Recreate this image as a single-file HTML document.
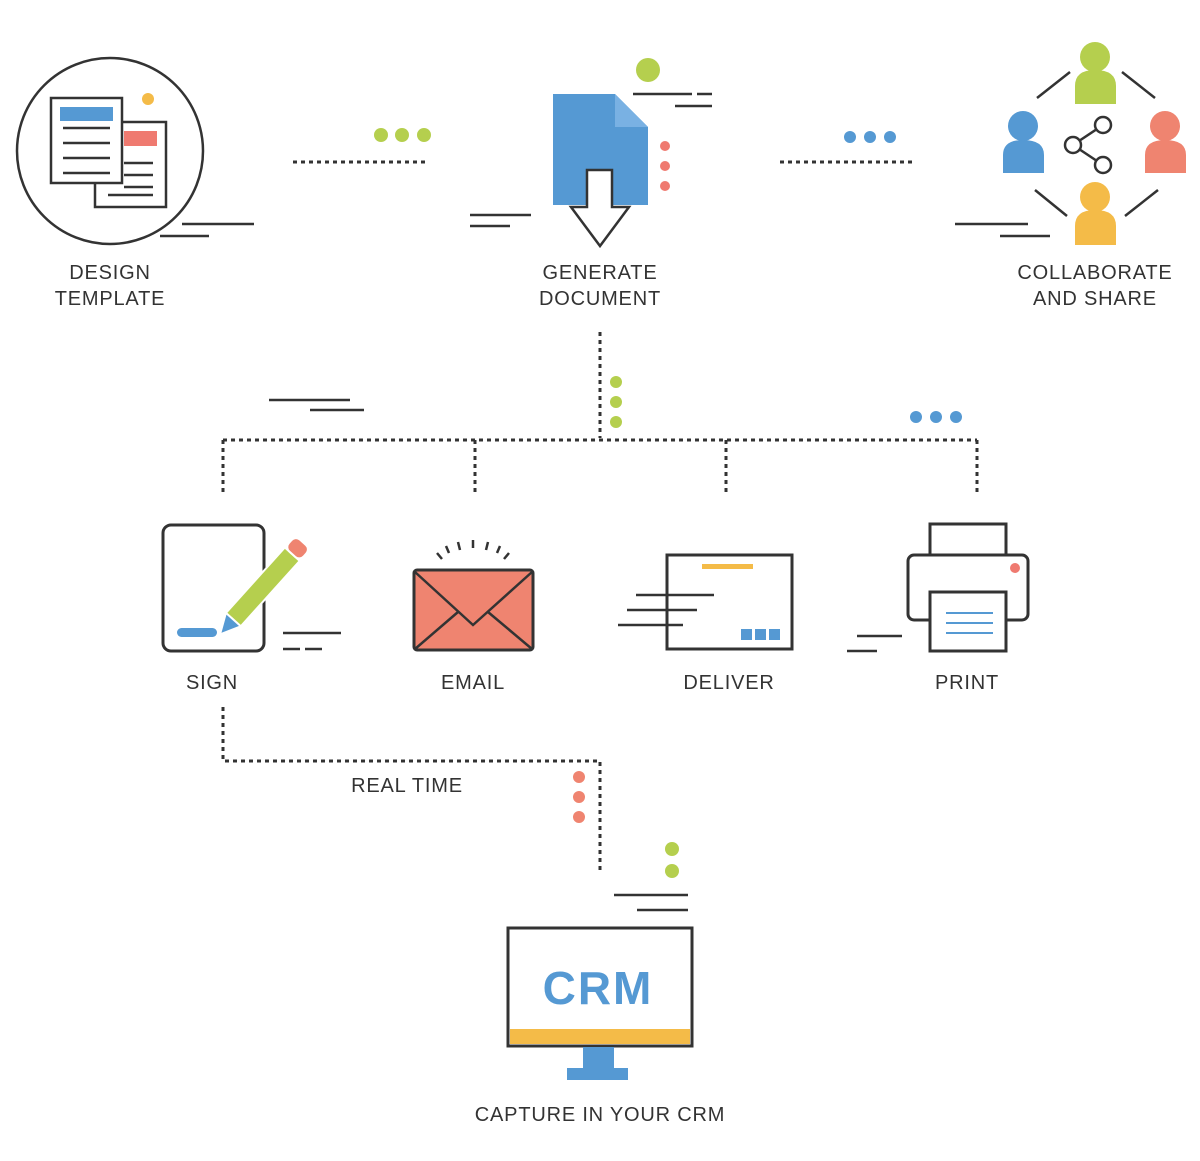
<!DOCTYPE html>
<html><head><meta charset="utf-8"><style>
html,body{margin:0;padding:0;background:#fff;}
svg{display:block}
text{font-family:"Liberation Sans",sans-serif;font-size:20px;fill:#333;letter-spacing:0.8px;text-anchor:middle}
</style></head><body>
<svg width="1200" height="1161" viewBox="0 0 1200 1161" xmlns="http://www.w3.org/2000/svg">
<g stroke="#333" stroke-width="2.5" fill="none">
<circle cx="110" cy="151" r="93"/>
<rect x="95" y="122" width="71" height="85" fill="#fff"/>
<rect x="51" y="98" width="71" height="85" fill="#fff"/>
<path d="M63 128H110M63 143H110M63 158H110M63 173H110M124 163H153M124 175H153M124 187H153M108 195H153"/>
<path d="M182 224H254M160 236H209"/>
</g>
<rect x="60" y="107" width="53" height="14" fill="#5599d3"/>
<rect x="124" y="131" width="33" height="15" fill="#ef7a70"/>
<circle cx="148" cy="99" r="6" fill="#f4bb48"/>
<path d="M293 162H425" stroke="#333" stroke-width="3" stroke-dasharray="4 4"/>
<g fill="#b5cf4e"><circle cx="381" cy="135" r="7"/><circle cx="402" cy="135" r="7"/><circle cx="424" cy="135" r="7"/></g>

<path d="M553 94H615L648 127V205H553Z" fill="#5599d3"/>
<path d="M615 94L648 127H615Z" fill="#79b1e3"/>
<path d="M587 170H612V207H629L600 246L571 207H587Z" fill="#fff" stroke="#333" stroke-width="2.5"/>
<circle cx="648" cy="70" r="12" fill="#b5cf4e"/>
<g stroke="#333" stroke-width="2.5"><path d="M633 94H692M697 94H712M675 106H712M470 215H531M470 226H510"/></g>
<g fill="#ef7a70"><circle cx="665" cy="146" r="5"/><circle cx="665" cy="166" r="5"/><circle cx="665" cy="186" r="5"/></g>
<path d="M780 162H912" stroke="#333" stroke-width="3" stroke-dasharray="4 4"/>
<g fill="#5599d3"><circle cx="850" cy="137" r="6"/><circle cx="870" cy="137" r="6"/><circle cx="890" cy="137" r="6"/></g>

<g fill="#b5cf4e"><circle cx="1095" cy="57" r="15"/><path d="M1075 104V86Q1075 70 1095 70Q1116 70 1116 86V104Z"/></g>
<g fill="#5599d3"><circle cx="1023" cy="126" r="15"/><path d="M1003 173V155Q1003 140 1023 140Q1044 140 1044 155V173Z"/></g>
<g fill="#ef8470"><circle cx="1165" cy="126" r="15"/><path d="M1145 173V155Q1145 140 1165 140Q1186 140 1186 155V173Z"/></g>
<g fill="#f4bb48"><circle cx="1095" cy="197" r="15"/><path d="M1075 245V226Q1075 210 1095 210Q1116 210 1116 226V245Z"/></g>
<g stroke="#333" stroke-width="2.5" fill="#fff">
<path d="M1103 125L1073 145L1103 165" fill="none"/>
<circle cx="1103" cy="125" r="8"/><circle cx="1073" cy="145" r="8"/><circle cx="1103" cy="165" r="8"/>
<path d="M1037 98L1070 72M1122 72L1155 98M1035 190L1067 216M1125 216L1158 190M955 224H1028M1000 236H1050" fill="none"/>
</g>

<text x="110" y="279">DESIGN</text><text x="110" y="305">TEMPLATE</text>
<text x="600" y="279">GENERATE</text><text x="600" y="305">DOCUMENT</text>
<text x="1095" y="279">COLLABORATE</text><text x="1095" y="305">AND SHARE</text>

<g stroke="#333" stroke-width="3" stroke-dasharray="4 4" fill="none">
<path d="M600 332V438"/><path d="M223 440H977"/>
<path d="M223 440V495M475 440V495M726 440V495M977 440V495"/>
<path d="M223 707V761H600V870"/>
</g>
<g fill="#b5cf4e"><circle cx="616" cy="382" r="6"/><circle cx="616" cy="402" r="6"/><circle cx="616" cy="422" r="6"/></g>
<g stroke="#333" stroke-width="2.5"><path d="M269 400H350M310 410H364"/></g>
<g fill="#5599d3"><circle cx="916" cy="417" r="6"/><circle cx="936" cy="417" r="6"/><circle cx="956" cy="417" r="6"/></g>

<rect x="163" y="525" width="101" height="126" rx="8" fill="#fff" stroke="#333" stroke-width="3"/>
<g transform="translate(224,630) rotate(-48)">
<rect x="14" y="-10" width="88" height="20" fill="#b5cf4e" stroke="#fff" stroke-width="2"/>
<path d="M14 -10L-6 0L14 10Z" fill="#5599d3" stroke="#fff" stroke-width="2"/>
<rect x="102" y="-10" width="16" height="20" rx="6" fill="#ef8470" stroke="#fff" stroke-width="2"/>
</g>
<rect x="177" y="628" width="40" height="9" rx="4.5" fill="#5599d3"/>
<g stroke="#333" stroke-width="2.5"><path d="M283 633H341M283 649H300M305 649H322"/></g>

<rect x="414" y="570" width="119" height="80" rx="3" fill="#ef8470" stroke="#333" stroke-width="3"/>
<g stroke="#333" stroke-width="2.5" fill="none">
<path d="M415 572L473 625L532 572M415 649L458 612M532 649L488 612"/>
<path d="M437 553L442 559M446 546L449 553M458 542L460 550M473 540V548M488 542L486 550M500 546L497 553M509 553L504 559"/>
</g>

<rect x="667" y="555" width="125" height="94" fill="#fff" stroke="#333" stroke-width="3"/>
<rect x="702" y="564" width="51" height="5" fill="#f4bb48"/>
<g fill="#5599d3"><rect x="741" y="629" width="11" height="11"/><rect x="755" y="629" width="11" height="11"/><rect x="769" y="629" width="11" height="11"/></g>
<g stroke="#333" stroke-width="2.5"><path d="M636 595H714M627 610H697M618 625H683"/></g>

<g stroke="#333" stroke-width="3" fill="#fff">
<rect x="930" y="524" width="76" height="31"/>
<rect x="908" y="555" width="120" height="65" rx="6"/>
<rect x="930" y="592" width="76" height="59"/>
</g>
<g stroke="#5599d3" stroke-width="2"><path d="M946 613H993M946 623H993M946 633H993"/></g>
<circle cx="1015" cy="568" r="5" fill="#ef7a70"/>
<g stroke="#333" stroke-width="2.5"><path d="M857 636H902M847 651H877"/></g>

<text x="212" y="689">SIGN</text><text x="473" y="689">EMAIL</text><text x="729" y="689">DELIVER</text><text x="967" y="689">PRINT</text>
<text x="407" y="792">REAL TIME</text>

<g fill="#ef8470"><circle cx="579" cy="777" r="6"/><circle cx="579" cy="797" r="6"/><circle cx="579" cy="817" r="6"/></g>
<g fill="#b5cf4e"><circle cx="672" cy="849" r="7"/><circle cx="672" cy="871" r="7"/></g>
<g stroke="#333" stroke-width="2.5"><path d="M614 895H688M637 910H688"/></g>

<rect x="508" y="928" width="184" height="118" fill="#fff" stroke="#333" stroke-width="3"/>
<rect x="510" y="1029" width="180" height="15" fill="#f4bb48"/>
<text x="598" y="1004" style="font-size:46px;font-weight:bold;fill:#5599d3;letter-spacing:2px">CRM</text>
<rect x="583" y="1047" width="31" height="22" fill="#5599d3"/>
<rect x="567" y="1068" width="61" height="12" fill="#5599d3"/>
<text x="600" y="1121">CAPTURE IN YOUR CRM</text>
</svg>
</body></html>
